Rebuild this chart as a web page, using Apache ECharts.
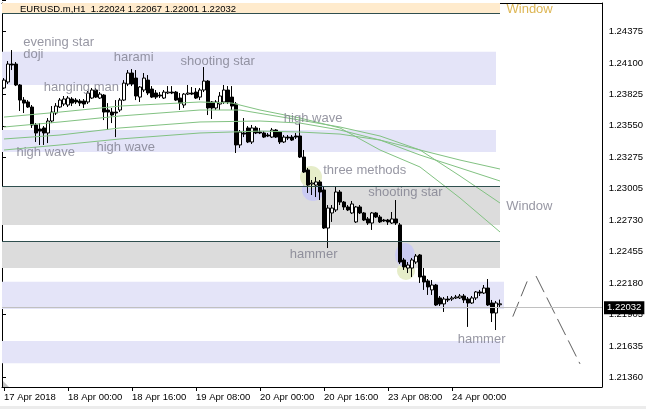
<!DOCTYPE html>
<html><head><meta charset="utf-8">
<script src="https://cdn.jsdelivr.net/npm/echarts@6/dist/echarts.min.js"></script>
<style>html,body{margin:0;padding:0;background:#fff}#c{width:646px;height:409px}</style>
</head><body><div id="c"></div><script>
// ---------- data ----------
const symbolName = 'EURUSD.m,H1';
const opens = [
1.23835,1.23885,1.24035,1.24035,1.23860,1.23734,1.23718,1.23676,1.23526,1.23492,
1.23501,1.23459,1.23559,1.23626,1.23676,1.23701,1.23693,1.23743,1.23734,1.23726,
1.23726,1.23718,1.23751,1.23818,1.23751,1.23776,1.23651,1.23634,1.23634,1.23651,
1.23734,1.23868,1.23960,1.23918,1.23759,1.23818,1.23901,1.23826,1.23793,1.23776,
1.23751,1.23793,1.23801,1.23801,1.23751,1.23693,1.23784,1.23793,1.23801,1.23759,
1.23818,1.23893,1.23718,1.23668,1.23701,1.23718,1.23818,1.23759,1.23701,1.23359,
1.23459,1.23501,1.23384,1.23501,1.23467,1.23459,1.23442,1.23425,1.23484,1.23467,
1.23384,1.23425,1.23425,1.23434,1.23434,1.23258,1.23150,1.23033,1.23024,1.23050,
1.22983,1.22665,1.22791,1.22816,1.22966,1.22882,1.22841,1.22791,1.22716,1.22841,
1.22791,1.22741,1.22707,1.22791,1.22757,1.22732,1.22732,1.22707,1.22741,1.22691,
1.22398,1.22331,1.22331,1.22381,1.22440,1.22264,1.22223,1.22148,1.22189,1.22081,
1.22031,1.22072,1.22072,1.22081,1.22081,1.22097,1.22072,1.22039,1.22081,1.22131,
1.22122,1.22164,1.22039,1.21955,1.22024];
const closes = [
1.23901,1.24035,1.24027,1.23860,1.23734,1.23709,1.23676,1.23526,1.23459,1.23475,
1.23459,1.23559,1.23634,1.23684,1.23734,1.23743,1.23751,1.23709,1.23718,1.23709,
1.23701,1.23793,1.23818,1.23759,1.23784,1.23634,1.23634,1.23609,1.23626,1.23734,
1.23876,1.23960,1.23868,1.23768,1.23843,1.23918,1.23793,1.23759,1.23759,1.23768,
1.23801,1.23801,1.23793,1.23734,1.23709,1.23784,1.23793,1.23784,1.23751,1.23818,
1.23893,1.23668,1.23668,1.23718,1.23768,1.23818,1.23718,1.23684,1.23359,1.23467,
1.23450,1.23384,1.23501,1.23459,1.23459,1.23425,1.23434,1.23484,1.23425,1.23384,
1.23425,1.23417,1.23400,1.23425,1.23258,1.23133,1.23024,1.23041,1.23050,1.22966,
1.22665,1.22832,1.22832,1.22966,1.22882,1.22841,1.22816,1.22866,1.22841,1.22791,
1.22732,1.22707,1.22791,1.22757,1.22716,1.22724,1.22716,1.22741,1.22707,1.22381,
1.22340,1.22356,1.22398,1.22431,1.22256,1.22214,1.22173,1.22189,1.22022,1.22031,
1.22072,1.22064,1.22081,1.22089,1.22097,1.22064,1.22039,1.22081,1.22131,1.22122,
1.22164,1.22022,1.21955,1.22039,1.22032];
const lows = [
1.23826,1.23868,1.23985,1.23851,1.23643,1.23626,1.23668,1.23501,1.23384,1.23359,
1.23359,1.23375,1.23542,1.23609,1.23668,1.23684,1.23676,1.23684,1.23701,1.23684,
1.23668,1.23701,1.23743,1.23751,1.23743,1.23567,1.23484,1.23542,1.23425,1.23634,
1.23726,1.23851,1.23851,1.23734,1.23718,1.23801,1.23776,1.23751,1.23743,1.23751,
1.23743,1.23784,1.23784,1.23726,1.23651,1.23668,1.23776,1.23776,1.23743,1.23734,
1.23801,1.23609,1.23576,1.23651,1.23651,1.23701,1.23701,1.23651,1.23292,1.23334,
1.23425,1.23375,1.23367,1.23450,1.23450,1.23417,1.23425,1.23417,1.23417,1.23367,
1.23375,1.23400,1.23392,1.23409,1.23250,1.23125,1.22958,1.22941,1.22924,1.22899,
1.22657,1.22498,1.22716,1.22799,1.22857,1.22816,1.22807,1.22782,1.22707,1.22782,
1.22724,1.22691,1.22649,1.22749,1.22707,1.22716,1.22691,1.22699,1.22691,1.22365,
1.22315,1.22289,1.22256,1.22365,1.22206,1.22148,1.22106,1.22106,1.22014,1.22014,
1.21964,1.22047,1.22056,1.22072,1.22072,1.22039,1.21839,1.22031,1.22064,1.22097,
1.22114,1.22014,1.21880,1.21813,1.22001];
const highs = [
1.23918,1.24060,1.24152,1.24052,1.23868,1.23759,1.23734,1.23693,1.23542,1.23542,
1.23517,1.23584,1.23684,1.23709,1.23751,1.23768,1.23768,1.23759,1.23751,1.23743,
1.23743,1.23810,1.23835,1.23835,1.23801,1.23784,1.23709,1.23668,1.23734,1.23751,
1.23901,1.23985,1.23993,1.23985,1.23851,1.23960,1.23943,1.23851,1.23818,1.23801,
1.23818,1.23851,1.23851,1.23810,1.23793,1.23793,1.23860,1.23843,1.23835,1.23835,
1.24010,1.23901,1.23726,1.23734,1.23801,1.23860,1.23851,1.23851,1.23718,1.23484,
1.23584,1.23517,1.23526,1.23517,1.23501,1.23475,1.23459,1.23501,1.23492,1.23475,
1.23442,1.23442,1.23442,1.23459,1.23542,1.23317,1.23167,1.23066,1.23091,1.23066,
1.23016,1.22857,1.22857,1.23008,1.22983,1.22891,1.22857,1.22891,1.22849,1.22857,
1.22799,1.22757,1.22799,1.22799,1.22774,1.22741,1.22741,1.22799,1.22899,1.22707,
1.22415,1.22381,1.22415,1.22448,1.22448,1.22331,1.22239,1.22231,1.22198,1.22097,
1.22089,1.22097,1.22097,1.22106,1.22114,1.22114,1.22089,1.22097,1.22139,1.22148,
1.22189,1.22239,1.22064,1.22056,1.22067];

// moving averages, read at a few bars: [bar index, price]
const ma1 = [[0,1.23592],[14,1.23634],[29,1.23684],[49,1.23718],[57,1.23709],[64,1.23651],[74,1.23584],[84,1.23501],[94,1.23317],[104,1.23175],[114,1.22916],[124,1.22632]];
const ma2 = [[0,1.23509],[14,1.23551],[29,1.23601],[49,1.23651],[59,1.23651],[74,1.23567],[84,1.23509],[94,1.23434],[104,1.23317],[114,1.23100],[124,1.22874]];
const ma3 = [[0,1.23409],[14,1.23442],[29,1.23501],[49,1.23551],[64,1.23559],[74,1.23542],[84,1.23484],[94,1.23400],[104,1.23275],[114,1.23167],[124,1.23058]];
const ma4 = [[0,1.23317],[14,1.23359],[29,1.23409],[49,1.23459],[64,1.23475],[74,1.23467],[84,1.23450],[94,1.23400],[104,1.23317],[114,1.23233],[124,1.23158]];

// zones (price bands)
const zoneTop    = [1.24545, 1.24138, 1.23484, 1.23016, 1.22557, 1.22217, 1.21722];
const zoneBottom = [1.24459, 1.23860, 1.23300, 1.22690, 1.22331, 1.21989, 1.21535];
const zoneEndBar = [124, 123, 123, 124, 124, 125, 124];
const zoneKind   = ['windowTop', 'sr', 'sr', 'window', 'window', 'sr', 'sr'];
const windowLevels = [1.24459, 1.23016, 1.22557];
const windowLevelEnd = [124, 124, 124];

// pattern annotations
const annoText  = ['evening star','doji','harami','shooting star','hanging man','high wave','high wave','high wave','three methods','shooting star','hammer','hammer','Window','Window'];
const annoBar   = [4.68, 4.68, 27.33, 44, 9.83, 3, 23, 69.83, 79.68, 90.93, 71.33, 113.33, 125.43, 125.5];
const annoPrice = [1.24219, 1.24119, 1.24094, 1.24060, 1.23843, 1.23294, 1.23342, 1.23584, 1.23144, 1.22964, 1.22448, 1.21738, 1.22843, 1.24494];

// pattern highlight blobs
const hlBar   = [77.25, 76.75, 100.5, 100.25];
const hlPrice = [1.22983, 1.23091, 1.22306, 1.22440];
const hlKind  = ['lav', 'green', 'green', 'lav'];

// forecast zigzag
const fc1 = [[127.2, 1.21925], [131.1, 1.22245]];
const fc2 = [[133.0, 1.22264], [144.0, 1.21530]];

const lastPrice = 1.22032;
const priceMin = 1.21337, priceMax = 1.24545;
const yTickLabels = ['1.21360','1.21635','1.21905','1.22180','1.22455','1.22730','1.23005','1.23275','1.23550','1.23825','1.24100','1.24375'];
const xTickLabels = ['17 Apr 2018','18 Apr 00:00','18 Apr 16:00','19 Apr 08:00','20 Apr 00:00','20 Apr 16:00','23 Apr 08:00','24 Apr 00:00'];

// hourly bar times (weekend has no bars), incl. empty future space
const MON = ['Jan','Feb','Mar','Apr','May','Jun','Jul','Aug','Sep','Oct','Nov','Dec'];
const categories = [];
(function () {
  let t = Date.UTC(2018, 3, 17, 8);
  while (categories.length < 150) {
    const d = new Date(t), wd = d.getUTCDay();
    if (wd !== 0 && wd !== 6) categories.push(d.getUTCDate() + ' ' + MON[d.getUTCMonth()] + ' ' + String(d.getUTCHours()).padStart(2,'0') + ':00');
    t += 3600000;
  }
})();

// ---------- chart ----------
const FONT = "'Liberation Sans',Arial,sans-serif";
const LFONT = "'Liberation Sans',Arial,sans-serif";
const TICK_EVERY = 16;
const isTick = i => i % TICK_EVERY === 0 && i / TICK_EVERY < xTickLabels.length;

const zoneColor = { windowTop: '#ffebcd', window: '#dcdcdc', sr: '#e4e4f8' };
const hlColor = { lav: '#cbcbf2', green: '#e6edc9' };
const hlSize = [[22,22],[22,22],[18,18],[20,24]];

const chart = echarts.init(document.getElementById('c'), null, { renderer: 'canvas' });
const N = opens.length;
const candleData = opens.map((o, i) => [o, closes[i], lows[i], highs[i]]);
const header = symbolName + '  ' + [opens[N-1], highs[N-1], lows[N-1], closes[N-1]].map(v => v.toFixed(5)).join(' ');

const maLine = d => ({ type: 'line', xAxisIndex: 1, yAxisIndex: 0, data: d, symbol: 'none', silent: true, z: 4,
  lineStyle: { color: '#82c282', width: 1 } });

chart.setOption({
  animation: false,
  backgroundColor: '#fff',
  title: { text: header, left: 20, top: 3, padding: 0,
    textStyle: { fontSize: 9.5, fontWeight: 'normal', fontFamily: FONT, color: '#000', lineHeight: 12 } },
  grid: [
    { left: 2, width: 600, top: 3, height: 384, show: false },
    { left: 2, width: 600, top: -9.5, height: 426.6, show: false }
  ],
  xAxis: [
    { gridIndex: 0, type: 'category', data: categories, position: 'bottom', boundaryGap: true,
      axisLine: { show: true, lineStyle: { color: '#000', width: 1 } },
      axisTick: { show: true, alignWithLabel: true, interval: i => isTick(i), length: 4, lineStyle: { color: '#000' } },
      axisLabel: { interval: i => isTick(i), formatter: (v, i) => isTick(i) ? xTickLabels[i / TICK_EVERY] : '',
        align: 'left', margin: 5, fontFamily: FONT, fontSize: 9.5, color: '#000' },
      splitLine: { show: false } },
    { gridIndex: 0, type: 'value', min: -0.5, max: 149.5, position: 'top',
      axisLine: { show: true, onZero: false, lineStyle: { color: '#000' } },
      axisTick: { show: false }, axisLabel: { show: false }, splitLine: { show: false } },
    { gridIndex: 1, type: 'value', min: 0, max: 1, show: false }
  ],
  yAxis: [
    { gridIndex: 0, type: 'value', min: priceMin, max: priceMax, position: 'left', scale: true,
      axisLine: { show: true, onZero: false, lineStyle: { color: '#000' } },
      axisTick: { show: false }, axisLabel: { show: false }, splitLine: { show: false } },
    { gridIndex: 0, type: 'value', min: priceMin, max: priceMax, position: 'right', scale: true,
      axisLine: { show: true, onZero: false, lineStyle: { color: '#000' } },
      axisTick: { show: false }, axisLabel: { show: false }, splitLine: { show: false } },
    { gridIndex: 1, type: 'value', min: -1, max: 12, interval: 1, position: 'right',
      axisLine: { show: false }, splitLine: { show: false },
      axisTick: { show: true, length: 4, lineStyle: { color: '#000' } },
      axisLabel: { margin: 7, fontFamily: FONT, fontSize: 9.5, color: '#000',
        formatter: v => (v >= 0 && v < yTickLabels.length) ? yTickLabels[v] : '' } }
  ],
  graphic: [
    { type: 'polygon', shape: { points: [[8,7],[14,7],[11,11]] }, style: { fill: '#000' }, silent: true },
    { type: 'polygon', shape: { points: [[382,3],[390,3],[386,7]] }, style: { fill: '#a8a8a8' }, silent: true },
    { type: 'polygon', shape: { points: [[3,381],[3,387],[9,387]] }, style: { fill: '#c4c4c4' }, silent: true },
    { type: 'rect', shape: { x: 0, y: 406, width: 646, height: 3 }, style: { fill: '#ececec' }, silent: true }
  ],
  series: [
    { type: 'line', xAxisIndex: 1, yAxisIndex: 0, data: [], silent: true, z: 1,
      markArea: { silent: true,
        data: zoneTop.map((t, k) => [
          { coord: [-0.5, t], itemStyle: { color: zoneColor[zoneKind[k]] } },
          { coord: [zoneEndBar[k], zoneBottom[k]] }]) },
      markLine: { silent: true, symbol: ['none','none'], label: { show: false },
        lineStyle: { color: '#2f4f4f', width: 1, type: 'solid' },
        data: windowLevels.map((p, k) => [{ coord: [-0.5, p] }, { coord: [windowLevelEnd[k], p] }]) } },
    { type: 'line', xAxisIndex: 1, yAxisIndex: 0, data: [], silent: true, z: 2,
      markLine: { silent: true, symbol: ['none','none'],
        lineStyle: { color: '#c0c0c0', width: 1, type: 'solid' },
        label: { show: true, position: 'end', distance: 2, formatter: lastPrice.toFixed(5),
          color: '#fff', backgroundColor: '#000', padding: [2,3,1,3], fontFamily: FONT, fontSize: 9.5 },
        data: [{ yAxis: lastPrice }] } },
    { type: 'scatter', xAxisIndex: 1, yAxisIndex: 0, silent: true, z: 2,
      data: hlBar.map((b, i) => ({ value: [b, hlPrice[i]], symbolSize: hlSize[i],
        itemStyle: { color: hlColor[hlKind[i]], opacity: 1 } })) },
    { type: 'candlestick', xAxisIndex: 0, yAxisIndex: 0, data: candleData, barWidth: 3, silent: true, z: 3,
      itemStyle: { color: '#fff', color0: '#000', borderColor: '#000', borderColor0: '#000', borderWidth: 1 } },
    maLine(ma1), maLine(ma2), maLine(ma3), maLine(ma4),
    { type: 'line', xAxisIndex: 1, yAxisIndex: 0, data: fc1, symbol: 'none', silent: true, z: 4,
      lineStyle: { color: '#606060', width: 1, type: [16,6] } },
    { type: 'line', xAxisIndex: 1, yAxisIndex: 0, data: fc2, symbol: 'none', silent: true, z: 4,
      lineStyle: { color: '#606060', width: 1, type: [18,6] } },
    { type: 'scatter', xAxisIndex: 1, yAxisIndex: 0, silent: true, z: 6, symbolSize: 1,
      itemStyle: { color: 'rgba(0,0,0,0)' },
      data: annoBar.map((b, i) => ({ value: [b, annoPrice[i]], name: annoText[i],
        label: { show: true, color: (i === annoText.length - 1) ? '#d4a429' : '#7d7d8c' } })),
      label: { show: true, position: 'right', distance: 0, formatter: p => p.name,
        fontFamily: LFONT, fontSize: 13, align: 'left', verticalAlign: 'middle' } }
  ]
});
</script></body></html>
